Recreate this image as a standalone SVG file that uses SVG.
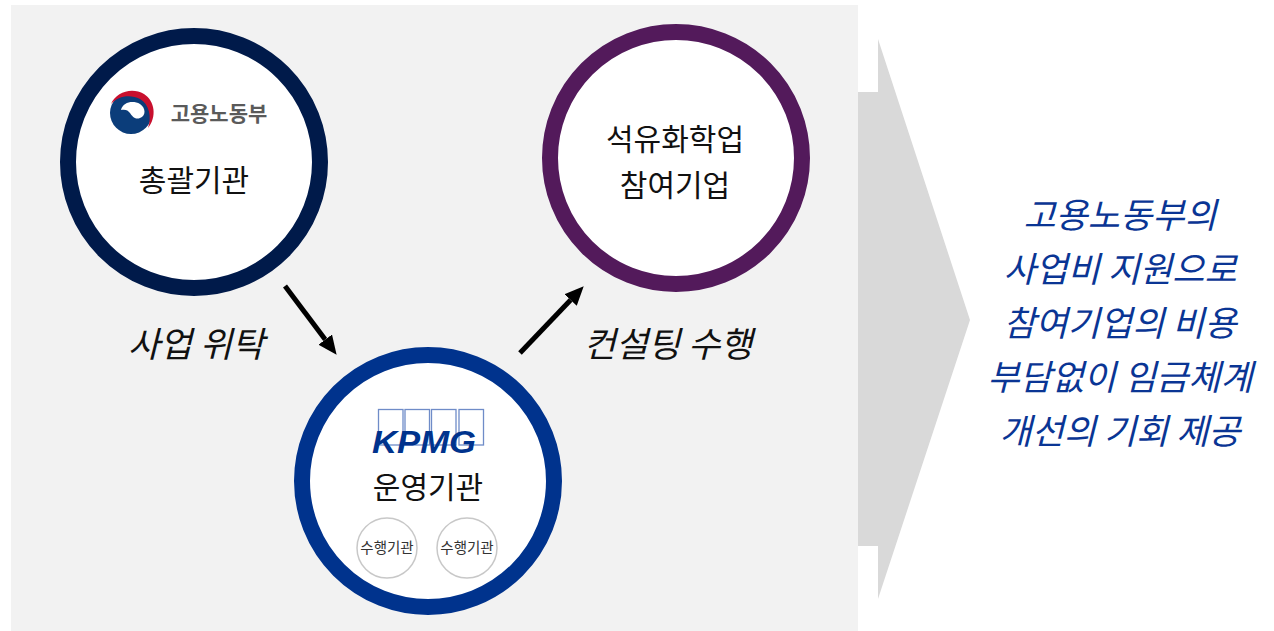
<svg xmlns="http://www.w3.org/2000/svg" width="1274" height="631" viewBox="0 0 1274 631">
<style>
.ko{font-family:"Noto Sans CJK KR","Noto Sans",sans-serif;}
.main{font-size:30px;fill:#111;text-anchor:middle;}
.lbl{font-size:35px;fill:#111;font-style:italic;text-anchor:middle;}
.res{font-size:35px;fill:#0a3594;font-style:italic;text-anchor:middle;}
.sub{font-size:14.5px;fill:#333;text-anchor:middle;}
.ring{fill:#fff;stroke-width:16;}
.small{fill:#fff;stroke:#c8c8c8;stroke-width:1.5;}
.conn{stroke:#000;stroke-width:5;fill:none;}
</style>
<defs>
<marker id="ah" markerUnits="userSpaceOnUse" markerWidth="19" markerHeight="17" refX="0" refY="8.5" orient="auto">
<path d="M0,0 L19,8.5 L0,17 z" fill="#000"/>
</marker>
</defs>
<rect x="11" y="5" width="847" height="626" fill="#f2f2f2"/>
<polygon points="858,92 878,92 878,39 970,320 878,599 878,546 858,546" fill="#d9d9d9"/>

<g id="node-moel">
<circle class="ring" cx="194" cy="162" r="126" stroke="#001a4a"/>
<g id="moel-emblem">
<circle cx="131" cy="113" r="21" fill="#0b3d7a"/>
<path d="M121,110 C123,102 133,100 140,104 C146,108 146,116 140,118 C135,120 132,116 130,113 C128,110 125,109 121,110 z" fill="#fff"/>
<path d="M111,104 C116,92 132,87 144,94 C155,101 157,117 148,128 C152,117 149,104 140,99 C130,94 118,96 111,104 z" fill="#c8102e"/>
</g>
<text class="ko" x="219" y="121" font-size="21" font-weight="700" fill="#5a5a5a" text-anchor="middle">고용노동부</text>
<text class="ko main" x="194" y="191">총괄기관</text>
</g>

<g id="node-company">
<circle class="ring" cx="676" cy="158" r="126" stroke="#531a5b"/>
<text class="ko main" x="675" y="150">석유화학업</text>
<text class="ko main" x="675" y="196">참여기업</text>
</g>

<g id="node-kpmg">
<circle class="ring" cx="428" cy="481" r="126" stroke="#00338d"/>
<g fill="none" stroke="#6f8cc8" stroke-width="1.3">
<rect x="378.5" y="409.5" width="24.5" height="35.5"/>
<rect x="405" y="409.5" width="24.5" height="35.5"/>
<rect x="431.5" y="409.5" width="24.5" height="35.5"/>
<rect x="459" y="409.5" width="24.5" height="35.5"/>
</g>
<text x="424" y="453" font-family="'Liberation Sans',Arial,sans-serif" font-size="32" font-weight="700" font-style="italic" fill="#00338d" text-anchor="middle" textLength="104" lengthAdjust="spacingAndGlyphs">KPMG</text>
<text class="ko main" x="428" y="498">운영기관</text>
<g id="sub-1">
<circle class="small" cx="387" cy="548" r="30"/>
<text class="ko sub" x="387" y="553">수행기관</text>
</g>
<g id="sub-2">
<circle class="small" cx="467" cy="548" r="30"/>
<text class="ko sub" x="467" y="553">수행기관</text>
</g>
</g>

<g id="connectors">
<line class="conn" x1="285" y1="286" x2="325.2" y2="339.6" marker-end="url(#ah)"/>
<line class="conn" x1="520" y1="353" x2="570.6" y2="300" marker-end="url(#ah)"/>
<text class="ko lbl" x="196" y="357">사업 위탁</text>
<text class="ko lbl" x="668" y="357">컨설팅 수행</text>
</g>

<g id="result-text">
<text class="ko res" x="1120" y="228">고용노동부의</text>
<text class="ko res" x="1120" y="282">사업비 지원으로</text>
<text class="ko res" x="1120" y="336">참여기업의 비용</text>
<text class="ko res" x="1120" y="390">부담없이 임금체계</text>
<text class="ko res" x="1120" y="444">개선의 기회 제공</text>
</g>
</svg>
